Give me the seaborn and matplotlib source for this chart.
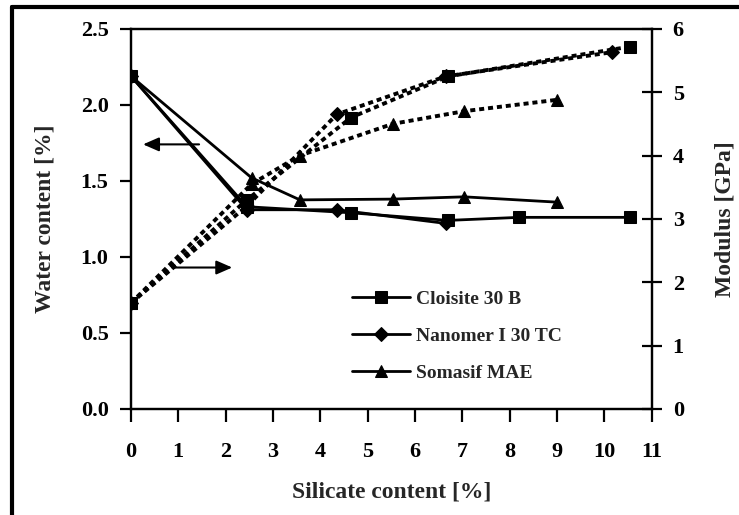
import matplotlib
matplotlib.use("Agg")
import matplotlib.pyplot as plt
import seaborn as sns
from matplotlib.lines import Line2D

sns.set_theme(style="white")
plt.rcParams['font.family'] = ['Liberation Serif', 'DejaVu Serif']
plt.rcParams['font.weight'] = 'bold'

# water content (left axis, solid lines)
cl_water_x = [0, 2.45, 4.65, 6.7, 8.2, 10.55]
cl_water_y = [2.19, 1.33, 1.29, 1.24, 1.26, 1.26]
na_water_x = [0, 2.45, 4.35, 6.65]
na_water_y = [2.19, 1.31, 1.31, 1.22]
so_water_x = [0, 2.55, 3.57, 5.53, 7.04, 9.0]
so_water_y = [2.19, 1.52, 1.375, 1.38, 1.395, 1.36]

# modulus (right axis, dotted lines)
cl_mod_x = [0, 2.45, 4.65, 6.7, 10.55]
cl_mod_y = [1.67, 3.3, 4.6, 5.25, 5.72]
na_mod_x = [0, 2.45, 4.35, 6.65, 10.15]
na_mod_y = [1.67, 3.2, 4.65, 5.25, 5.63]
so_mod_x = [0, 2.55, 3.57, 5.53, 7.04, 9.0]
so_mod_y = [1.67, 3.55, 4.0, 4.5, 4.7, 4.88]

names = ["Cloisite 30 B", "Nanomer I 30 TC", "Somasif MAE"]
markers = ["s", "D", "^"]
msizes = [8, 7, 8]

fig = plt.figure(figsize=(7.39, 5.15), dpi=100)
ax = fig.add_axes([0.177, 0.206, 0.705, 0.738])
ax2 = ax.twinx()

water = [(cl_water_x, cl_water_y), (na_water_x, na_water_y), (so_water_x, so_water_y)]
modulus = [(cl_mod_x, cl_mod_y), (na_mod_x, na_mod_y), (so_mod_x, so_mod_y)]

for (wx, wy), (mx, my), name, m, ms in zip(water, modulus, names, markers, msizes):
    sns.lineplot(x=wx, y=wy, ax=ax, color="black", marker=m, markersize=ms,
                 lw=2, sort=False, label=name, markeredgecolor="black")
    sns.lineplot(x=mx, y=my, ax=ax2, color="black", marker=m, markersize=ms,
                 lw=2.8, ls=(0, (1.3, 1.0)), sort=False, markeredgecolor="black",
                 legend=False)

ax.set_xlim(0, 11)
ax.set_ylim(0, 2.5)
ax2.set_ylim(0, 6)
ax.set_xticks(range(0, 12))
ax.set_yticks([0, 0.5, 1.0, 1.5, 2.0, 2.5])
ax.set_yticklabels(["0.0", "0.5", "1.0", "1.5", "2.0", "2.5"])
ax2.set_yticks(range(0, 7))

for a in (ax, ax2):
    for s in a.spines.values():
        s.set_color("black")
        s.set_linewidth(1.6)
ax.tick_params(axis="x", direction="out", length=9, width=1.6, colors="black",
               labelsize=16, pad=15, bottom=True)
ax.tick_params(axis="y", direction="out", length=8, width=1.6, colors="black",
               labelsize=16, pad=8, left=True)
ax2.tick_params(axis="y", direction="inout", length=14, width=1.6, colors="black",
                labelsize=16, pad=8, right=True)

ax.set_xlabel("Silicate content [%]", fontsize=17, fontweight="bold", labelpad=14)
ax.set_ylabel("Water content [%]", fontsize=17, fontweight="bold", labelpad=18)
ax2.set_ylabel("Modulus [GPa]", fontsize=17, fontweight="bold", labelpad=22)

# direction arrows
ax.annotate("", xy=(0.2, 1.74), xytext=(1.5, 1.74),
            arrowprops=dict(arrowstyle="-|>,head_length=0.8,head_width=0.35",
                            color="black", lw=1.5))
ax.annotate("", xy=(2.2, 0.93), xytext=(0.85, 0.93),
            arrowprops=dict(arrowstyle="-|>,head_length=0.8,head_width=0.35",
                            color="black", lw=1.5))

leg = ax.legend(loc="upper left", bbox_to_anchor=(0.424, 0.313), frameon=False,
                fontsize=14, handlelength=3.0, handletextpad=0.3, labelspacing=1.0,
                borderaxespad=0, borderpad=0)
for t in leg.get_texts():
    t.set_fontweight("bold")

# outer frame (top and left edges visible)
fig.add_artist(Line2D([0.016, 1.0], [0.986, 0.986], color="black", lw=3,
                      transform=fig.transFigure))
fig.add_artist(Line2D([0.016, 0.016], [0.0, 0.986], color="black", lw=3,
                      transform=fig.transFigure))

fig.savefig("out.png", dpi=100)
